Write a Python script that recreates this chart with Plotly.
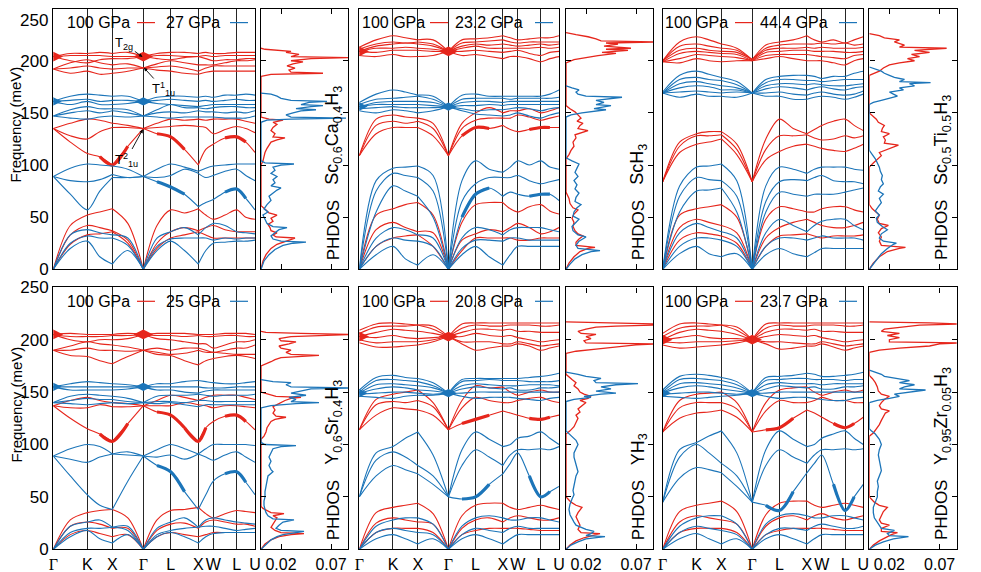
import plotly.graph_objects as go

# ---------------- data ----------------
KPATH = [0, 34, 59, 90, 117.4, 145, 160, 183.4, 201.7]
KLABELS = ['Γ', 'K', 'X', 'Γ', 'L', 'X', 'W', 'L', 'U']
KGRID = [0, 17, 34, 46.5, 59, 74.5, 90, 103.7, 117.4, 131.2, 145, 152.5, 160, 171.7, 183.4, 192.5, 201.7]
# indices of KGRID where the dispersion pieces are split (Gamma and X points)
KBREAKS = [0, 4, 6, 10, 16]
FREQ_TICKS = [0, 50, 100, 150, 200, 250]
FREQ_TICKTEXT = ['0', '50', '100', '150', '200', '250']
DOS_TICKS = [0.02, 0.07]
DOS_TICKTEXT = ['0.02', '0.07']

# Sc0.6Ca0.4H3 : 100 GPa (red) / 27 GPa (blue)
SCCA_RED = [
    [0, 24, 33, 34, 36, 25, 0, 20, 30, 33, 36, 33, 30, 30, 30, 30, 30],
    [0, 33, 42, 40, 37, 28, 0, 25, 36, 40, 37, 40, 42, 38, 36, 36, 36],
    [0, 42, 52, 55, 58, 44, 0, 42, 57, 54, 58, 52, 48, 52, 57, 50, 48],
    [135, 122, 111, 108, 100, 118, 135, 130, 127, 115, 100, 115, 120, 126, 127, 122, 112],
    [135, 128, 125, 132, 136, 136, 135, 136, 137, 138, 137, 136, 130, 134, 137, 135, 131],
    [135, 140, 144, 143, 140, 138, 135, 140, 144, 143, 144, 143, 144, 144, 144, 142, 140],
    [192, 188, 190, 187, 188, 190, 193, 191, 190, 188, 187, 189, 190, 190, 190, 190, 190],
    [192, 193, 195, 193, 192, 193, 193, 194, 195, 193, 190, 193, 195, 195, 195, 195, 195],
    [192, 198, 201, 198, 196, 197, 193, 197, 200, 198, 196, 196, 196, 198, 200, 200, 201],
    [204, 200, 198, 201, 202, 202, 204, 202, 201, 203, 204, 202, 200, 201, 201, 202, 202],
    [204, 205, 205, 205, 204, 204, 204, 205, 205, 204, 204, 205, 204, 205, 205, 205, 205],
    [204, 207, 207, 208, 207, 208, 204, 207, 208, 208, 207, 208, 207, 207, 208, 208, 208],
]
SCCA_BLUE = [
    [0, 20, 27, 12, 5, 18, 0, 18, 27, 18, 5, 18, 25, 26, 27, 27, 28],
    [0, 25, 32, 30, 30, 23, 0, 22, 29, 30, 30, 30, 28, 30, 29, 30, 30],
    [0, 33, 38, 35, 33, 30, 0, 30, 36, 40, 33, 40, 44, 42, 36, 35, 34],
    [89, 72, 57, 75, 88, 88, 89, 84, 79, 72, 60, 64, 67, 74, 77, 68, 57],
    [89, 85, 84, 86, 91, 88, 89, 88, 90, 96, 92, 88, 90, 94, 96, 90, 85],
    [89, 97, 101, 100, 99, 96, 89, 96, 101, 98, 94, 97, 99, 100, 101, 101, 101],
    [147, 145, 144, 146, 147, 146, 147, 146, 145, 146, 146, 146, 146, 145, 145, 145, 147],
    [147, 150, 152, 150, 152, 150, 147, 150, 151, 150, 152, 151, 151, 150, 151, 150, 152],
    [147, 153, 156, 154, 154, 153, 147, 153, 158, 155, 155, 154, 155, 156, 156, 155, 155],
    [161, 158, 161, 158, 158, 159, 161, 159, 158, 157, 156, 157, 158, 158, 158, 158, 158],
    [161, 162, 163, 161, 162, 162, 161, 162, 163, 162, 161, 162, 161, 162, 163, 162, 162],
    [161, 166, 168, 167, 166, 166, 161, 165, 166, 166, 165, 166, 165, 167, 167, 168, 167],
]
# ScH3 : 100 GPa / 23.2 GPa
SCH3_RED = [
    [0, 22, 30, 32, 33, 22, 0, 18, 30, 30, 30, 30, 28, 28, 30, 30, 30],
    [0, 38, 45, 40, 36, 35, 0, 28, 34, 38, 36, 40, 44, 40, 34, 36, 40],
    [0, 52, 58, 62, 64, 52, 0, 45, 62, 64, 64, 58, 55, 60, 62, 56, 53],
    [109, 130, 136, 136, 136, 128, 109, 128, 136, 135, 138, 134, 132, 134, 136, 136, 136],
    [109, 138, 142, 140, 142, 135, 109, 135, 143, 145, 145, 145, 148, 146, 143, 145, 147],
    [109, 144, 148, 146, 145, 140, 109, 140, 150, 155, 150, 152, 152, 154, 150, 152, 155],
    [205, 204, 206, 204, 204, 205, 209, 205, 206, 204, 202, 204, 204, 202, 199, 202, 204],
    [209, 208, 210, 210, 210, 209, 209, 209, 210, 209, 208, 209, 210, 207, 205, 208, 209],
    [209, 212, 212, 213, 212, 211, 209, 212, 214, 212, 212, 212, 212, 212, 213, 212, 213],
    [209, 214, 216, 217, 216, 214, 209, 214, 216, 215, 216, 215, 214, 215, 216, 215, 216],
    [211, 216, 218, 217, 218, 216, 209, 217, 218, 219, 220, 218, 217, 218, 218, 218, 218],
    [213, 220, 224, 222, 220, 220, 209, 220, 221, 222, 224, 222, 220, 221, 222, 222, 224],
]
SCH3_BLUE = [
    [0, 14, 22, 10, 4, 14, 0, 14, 22, 12, 4, 14, 22, 22, 22, 22, 22],
    [0, 22, 30, 28, 27, 22, 0, 20, 28, 28, 27, 30, 30, 28, 28, 28, 28],
    [0, 30, 40, 38, 33, 30, 0, 30, 40, 38, 33, 38, 40, 40, 40, 38, 36],
    [0, 55, 80, 75, 70, 50, 0, 50, 72, 78, 70, 74, 72, 70, 72, 72, 66],
    [0, 75, 92, 90, 88, 75, 0, 65, 82, 88, 88, 88, 90, 85, 82, 84, 86],
    [0, 85, 97, 98, 99, 90, 0, 85, 104, 96, 93, 98, 104, 100, 104, 98, 96],
    [152, 150, 153, 152, 150, 152, 156, 152, 149, 148, 147, 148, 150, 147, 145, 148, 150],
    [154, 155, 156, 155, 155, 155, 156, 154, 152, 153, 153, 154, 155, 154, 152, 154, 155],
    [156, 158, 158, 158, 158, 157, 156, 157, 157, 158, 157, 158, 158, 158, 158, 158, 158],
    [156, 160, 161, 161, 161, 160, 156, 160, 161, 161, 160, 161, 161, 161, 161, 161, 161],
    [158, 163, 164, 165, 166, 163, 156, 163, 164, 164, 164, 163, 164, 164, 164, 164, 165],
    [160, 168, 172, 170, 167, 166, 156, 167, 168, 166, 166, 166, 166, 166, 166, 168, 172],
]
# Sc0.5Ti0.5H3 : 100 GPa / 44.4 GPa
SCTI_RED = [
    [0, 28, 35, 34, 32, 25, 0, 22, 32, 33, 34, 32, 30, 32, 32, 32, 33],
    [0, 40, 48, 45, 42, 35, 0, 30, 40, 45, 48, 45, 42, 40, 40, 42, 45],
    [0, 52, 58, 60, 62, 50, 0, 48, 60, 58, 55, 55, 58, 60, 60, 57, 55],
    [84, 112, 120, 122, 125, 110, 84, 105, 113, 118, 120, 118, 116, 114, 113, 116, 120],
    [84, 118, 128, 128, 129, 115, 84, 115, 128, 128, 129, 126, 124, 125, 128, 126, 128],
    [84, 122, 130, 132, 132, 120, 84, 125, 144, 135, 130, 134, 138, 142, 144, 138, 133],
    [199, 198, 202, 200, 199, 200, 200, 202, 204, 202, 200, 200, 200, 198, 196, 200, 202],
    [199, 202, 206, 205, 204, 203, 200, 205, 206, 206, 206, 205, 204, 203, 202, 205, 206],
    [199, 207, 209, 208, 207, 206, 200, 208, 209, 210, 210, 209, 209, 209, 208, 208, 209],
    [200, 210, 212, 210, 209, 208, 201, 210, 212, 212, 213, 212, 213, 212, 212, 212, 213],
    [200, 214, 216, 214, 212, 210, 201, 212, 215, 216, 216, 216, 217, 216, 217, 215, 216],
    [200, 218, 223, 220, 216, 212, 201, 215, 218, 220, 224, 220, 218, 220, 217, 220, 223],
]
SCTI_BLUE = [
    [0, 15, 22, 15, 12, 15, 0, 14, 20, 15, 12, 16, 20, 20, 20, 20, 20],
    [0, 22, 30, 30, 28, 22, 0, 22, 30, 30, 28, 30, 32, 30, 30, 30, 28],
    [0, 35, 44, 40, 36, 30, 0, 35, 48, 42, 36, 42, 46, 48, 48, 42, 38],
    [0, 55, 75, 76, 78, 55, 0, 55, 74, 72, 70, 72, 72, 72, 74, 76, 78],
    [0, 70, 88, 86, 85, 70, 0, 65, 84, 86, 85, 88, 90, 85, 84, 84, 82],
    [0, 80, 98, 99, 101, 85, 0, 80, 98, 96, 92, 96, 98, 98, 98, 96, 95],
    [169, 165, 168, 166, 166, 165, 169, 166, 166, 163, 163, 165, 166, 165, 163, 165, 168],
    [169, 170, 171, 170, 169, 170, 169, 169, 170, 168, 167, 169, 170, 168, 167, 168, 171],
    [169, 174, 176, 175, 172, 172, 169, 173, 175, 174, 172, 174, 175, 173, 172, 174, 175],
    [169, 178, 180, 178, 176, 174, 169, 176, 178, 178, 177, 178, 177, 176, 176, 177, 178],
    [169, 182, 184, 182, 181, 177, 169, 179, 182, 182, 181, 181, 180, 181, 182, 182, 182],
    [170, 186, 190, 187, 184, 180, 169, 182, 185, 186, 186, 185, 183, 185, 185, 188, 190],
]
# Y0.6Sr0.4H3 : 100 GPa / 25 GPa
YSR_RED = [
    [0, 14, 18, 15, 12, 14, 0, 12, 16, 14, 12, 14, 16, 16, 16, 16, 16],
    [0, 22, 26, 24, 20, 20, 0, 18, 24, 25, 20, 26, 28, 26, 24, 24, 22],
    [0, 28, 35, 37, 38, 30, 0, 28, 37, 38, 40, 34, 30, 34, 37, 36, 35],
    [137, 125, 115, 110, 103, 120, 137, 131, 128, 116, 103, 116, 122, 127, 128, 122, 114],
    [137, 135, 135, 138, 136, 136, 137, 137, 137, 140, 138, 137, 135, 137, 137, 136, 135],
    [137, 142, 145, 142, 140, 139, 137, 142, 147, 145, 142, 145, 147, 147, 147, 145, 143],
    [190, 185, 184, 180, 177, 184, 190, 186, 185, 180, 176, 180, 182, 184, 185, 184, 182],
    [190, 190, 192, 190, 190, 189, 190, 188, 186, 187, 190, 188, 188, 187, 186, 186, 186],
    [190, 194, 198, 196, 195, 193, 190, 192, 190, 192, 192, 190, 188, 190, 192, 192, 195],
    [205, 200, 198, 200, 200, 201, 205, 201, 200, 198, 196, 196, 192, 195, 198, 198, 200],
    [205, 203, 203, 203, 204, 204, 205, 204, 204, 203, 204, 203, 203, 204, 204, 203, 203],
    [205, 206, 205, 205, 205, 206, 205, 206, 206, 206, 205, 205, 205, 206, 206, 206, 205],
]
YSR_BLUE = [
    [0, 12, 18, 10, 6, 14, 0, 12, 16, 12, 6, 12, 15, 16, 16, 16, 16],
    [0, 16, 20, 20, 21, 18, 0, 14, 18, 20, 21, 22, 22, 20, 18, 19, 20],
    [0, 22, 26, 28, 21, 22, 0, 20, 26, 30, 21, 28, 30, 28, 26, 25, 24],
    [89, 70, 52, 42, 38, 65, 89, 80, 74, 55, 38, 52, 65, 72, 74, 64, 52],
    [89, 86, 83, 88, 91, 90, 89, 88, 90, 86, 91, 88, 85, 90, 93, 88, 83],
    [89, 96, 100, 98, 91, 93, 89, 95, 100, 96, 91, 96, 100, 100, 100, 100, 99],
    [140, 139, 138, 139, 140, 139, 140, 139, 140, 138, 136, 138, 138, 138, 138, 138, 138],
    [140, 142, 144, 143, 143, 141, 140, 141, 141, 140, 142, 142, 141, 141, 141, 141, 141],
    [140, 146, 148, 147, 146, 144, 140, 146, 147, 147, 148, 147, 146, 147, 147, 147, 148],
    [155, 152, 152, 152, 152, 153, 155, 152, 152, 150, 149, 151, 152, 152, 152, 152, 152],
    [155, 155, 155, 155, 155, 155, 155, 155, 155, 155, 155, 154, 154, 154, 155, 155, 155],
    [155, 158, 160, 159, 158, 157, 155, 158, 158, 160, 161, 160, 159, 158, 158, 159, 160],
]
# YH3 : 100 GPa / 20.8 GPa
YH3_RED = [
    [0, 16, 20, 20, 20, 16, 0, 14, 18, 20, 20, 20, 20, 19, 18, 18, 18],
    [0, 25, 30, 28, 26, 24, 0, 20, 28, 30, 26, 30, 32, 30, 28, 28, 30],
    [0, 35, 40, 42, 44, 34, 0, 32, 42, 44, 44, 40, 38, 40, 42, 40, 38],
    [114, 128, 135, 134, 133, 128, 114, 120, 124, 128, 132, 130, 128, 125, 124, 126, 128],
    [114, 138, 141, 140, 142, 136, 114, 135, 145, 142, 140, 140, 142, 144, 145, 142, 140],
    [114, 143, 148, 150, 152, 140, 114, 142, 156, 154, 155, 150, 147, 150, 152, 150, 150],
    [197, 193, 193, 194, 195, 198, 203, 196, 190, 192, 194, 194, 196, 194, 190, 192, 194],
    [200, 197, 198, 198, 198, 200, 203, 198, 198, 198, 196, 196, 198, 196, 194, 195, 196],
    [203, 202, 204, 202, 201, 202, 203, 203, 206, 204, 203, 204, 202, 200, 198, 199, 200],
    [203, 207, 210, 209, 208, 206, 203, 207, 210, 210, 209, 210, 208, 208, 207, 207, 207],
    [206, 212, 213, 213, 214, 210, 203, 211, 214, 213, 213, 214, 214, 214, 213, 213, 214],
    [209, 215, 216, 215, 214, 213, 203, 215, 216, 216, 216, 216, 216, 216, 216, 216, 216],
]
YH3_BLUE = [
    [0, 10, 14, 10, 5, 10, 0, 10, 14, 10, 5, 10, 14, 14, 14, 14, 14],
    [0, 16, 20, 18, 16, 14, 0, 14, 20, 18, 16, 20, 22, 20, 20, 20, 20],
    [0, 22, 28, 30, 30, 24, 0, 22, 30, 32, 30, 28, 28, 30, 30, 28, 26],
    [50, 70, 80, 76, 72, 62, 50, 48, 50, 62, 72, 82, 92, 70, 50, 55, 60],
    [50, 85, 93, 88, 80, 70, 50, 80, 95, 88, 80, 90, 95, 95, 96, 95, 98],
    [50, 92, 98, 106, 112, 90, 50, 95, 112, 105, 98, 100, 106, 108, 112, 106, 100],
    [146, 145, 144, 146, 147, 147, 149, 146, 144, 145, 145, 145, 144, 143, 142, 144, 145],
    [148, 149, 150, 150, 149, 148, 149, 149, 150, 150, 150, 150, 150, 150, 150, 150, 150],
    [149, 153, 155, 154, 152, 151, 149, 153, 155, 154, 153, 154, 152, 152, 154, 154, 155],
    [149, 157, 158, 157, 156, 154, 149, 156, 158, 157, 156, 156, 156, 157, 157, 157, 156],
    [150, 161, 162, 161, 160, 156, 149, 160, 161, 162, 161, 161, 161, 160, 160, 160, 161],
    [152, 164, 166, 164, 163, 159, 149, 162, 163, 163, 163, 163, 163, 164, 165, 166, 168],
]
# Y0.95Zr0.05H3 : 100 GPa / 23.7 GPa
YZR_RED = [
    [0, 16, 20, 20, 20, 16, 0, 14, 18, 20, 20, 20, 20, 19, 18, 18, 18],
    [0, 26, 32, 30, 28, 24, 0, 22, 30, 32, 28, 32, 34, 30, 28, 30, 32],
    [0, 36, 42, 44, 46, 36, 0, 33, 44, 46, 46, 42, 40, 42, 44, 42, 40],
    [112, 125, 130, 131, 133, 126, 112, 114, 116, 125, 133, 130, 126, 120, 116, 120, 126],
    [112, 135, 140, 140, 140, 134, 112, 132, 142, 140, 140, 142, 145, 142, 142, 140, 140],
    [112, 142, 148, 149, 150, 140, 112, 140, 152, 154, 155, 150, 147, 150, 152, 150, 152],
    [195, 192, 193, 194, 195, 197, 200, 196, 191, 192, 194, 194, 196, 193, 190, 192, 194],
    [198, 197, 198, 198, 198, 199, 200, 198, 198, 197, 196, 196, 198, 196, 194, 195, 196],
    [200, 202, 204, 202, 201, 201, 200, 203, 205, 204, 203, 204, 202, 200, 198, 199, 200],
    [200, 207, 210, 209, 208, 205, 200, 207, 210, 210, 209, 210, 208, 208, 207, 207, 207],
    [203, 211, 213, 213, 214, 209, 200, 211, 214, 213, 213, 214, 214, 214, 213, 213, 214],
    [206, 215, 216, 215, 214, 212, 200, 215, 216, 216, 216, 216, 216, 216, 216, 216, 216],
]
YZR_BLUE = [
    [0, 10, 15, 10, 5, 10, 0, 10, 14, 10, 5, 10, 14, 14, 14, 14, 14],
    [0, 16, 22, 20, 18, 14, 0, 14, 20, 20, 18, 22, 24, 22, 20, 20, 22],
    [0, 22, 30, 32, 32, 24, 0, 24, 32, 34, 32, 30, 30, 32, 32, 30, 28],
    [45, 68, 78, 76, 73, 60, 45, 42, 37, 55, 73, 82, 90, 62, 37, 50, 62],
    [45, 88, 100, 92, 82, 70, 45, 80, 95, 88, 82, 90, 95, 95, 96, 95, 96],
    [45, 95, 102, 108, 113, 92, 45, 95, 113, 105, 98, 100, 106, 110, 113, 106, 100],
    [146, 145, 144, 145, 146, 147, 149, 146, 144, 145, 145, 144, 143, 142, 142, 144, 145],
    [148, 149, 150, 150, 149, 148, 149, 149, 150, 150, 150, 150, 150, 150, 150, 150, 150],
    [149, 154, 156, 155, 153, 151, 149, 153, 156, 155, 154, 155, 153, 153, 155, 155, 156],
    [149, 158, 159, 158, 157, 154, 149, 157, 159, 158, 158, 158, 157, 158, 158, 158, 158],
    [150, 162, 163, 162, 161, 157, 149, 161, 162, 163, 163, 162, 162, 162, 161, 162, 162],
    [152, 165, 167, 166, 164, 160, 149, 164, 165, 166, 168, 167, 165, 165, 166, 167, 169],
]

# frequencies of the fat-band knots at the Gamma points (red, blue)
SCCA_GAMMA_BLOB = ([204], [161])
SCH3_GAMMA_BLOB = ([209], [156])
SCTI_GAMMA_BLOB = ([], [])
YSR_GAMMA_BLOB = ([205], [155])
YH3_GAMMA_BLOB = ([203], [149])
YZR_GAMMA_BLOB = ([200], [149])

# fat-band stretches: (series, branch index, first k index, last k index)
SCCA_FAT = [('red', 3, 7, 9), ('red', 3, 13, 15), ('red', 3, 3, 5), ('blue', 3, 7, 9), ('blue', 3, 13, 15)]
SCH3_FAT = [('red', 3, 7, 9), ('red', 3, 13, 15), ('blue', 3, 7, 9), ('blue', 3, 13, 15)]
SCTI_FAT = []
YSR_FAT = [('red', 3, 7, 9), ('red', 3, 13, 15), ('red', 3, 3, 5), ('red', 3, 9, 11), ('blue', 3, 7, 9), ('blue', 3, 13, 15)]
YH3_FAT = [('red', 3, 7, 9), ('red', 3, 13, 15), ('blue', 3, 7, 9), ('blue', 3, 13, 15)]
YZR_FAT = [('red', 3, 7, 9), ('red', 3, 13, 15), ('blue', 3, 7, 9), ('blue', 3, 13, 15)]

# PHDOS (frequency meV, dos)
SCCA_DOS_RED = [(0,0),(8,0.002),(14,0.005),(20,0.01),(24,0.016),(27,0.024),(29,0.03),(30,0.034),(31,0.015),(33,0.012),(35,0.016),(37,0.01),(40,0.009),(43,0.007),(46,0.012),(49,0.01),(52,0.016),(54,0.008),(57,0.005),(59,0.002),(61,0),
    (100,0),(104,0.002),(108,0.003),(112,0.004),(116,0.006),(119,0.008),(122,0.01),(124,0.016),(126,0.024),(127,0.012),(130,0.014),(133,0.01),(136,0.012),(139,0.016),(141,0.012),(143,0.022),(144,0.008),(146,0),
    (185,0),(187,0.01),(188,0.062),(189,0.03),(191,0.028),(193,0.034),(195,0.026),(197,0.032),(199,0.042),(200,0.03),(202,0.05),(203,0.09),(204,0.03),(206,0.038),(208,0.025),(209,0.03),(210,0.012),(211,0.004),(212,0)]
SCCA_DOS_BLUE = [(0,0),(8,0.003),(14,0.008),(19,0.014),(23,0.022),(25,0.032),(26,0.045),(27,0.02),(29,0.012),(32,0.01),(35,0.014),(38,0.018),(40,0.026),(41,0.012),(44,0.006),(48,0.004),(52,0.002),(55,0.007),(58,0.003),(62,0.006),(66,0.01),(70,0.008),(73,0.012),(76,0.016),(78,0.02),(80,0.01),(83,0.014),(86,0.012),(89,0.016),(92,0.01),(95,0.014),(98,0.012),(100,0.02),(101,0.033),(102,0.004),(104,0),
    (141,0),(143,0.006),(144,0.03),(145,0.085),(146,0.03),(148,0.025),(150,0.032),(152,0.04),(153,0.055),(154,0.035),(156,0.05),(157,0.062),(158,0.04),(160,0.048),(161,0.066),(162,0.03),(164,0.02),(166,0.016),(168,0.01),(169,0)]
SCH3_DOS_RED = [(0,0),(6,0.003),(12,0.008),(17,0.014),(20,0.022),(21,0.029),(23,0.01),(26,0.01),(29,0.013),(32,0.017),(34,0.012),(37,0.009),(41,0.007),(45,0.008),(49,0.006),(53,0.008),(57,0.012),(59,0.007),(63,0.004),(68,0.003),(72,0.001),(74,0),
    (106,0),(110,0.003),(114,0.005),(118,0.008),(122,0.007),(126,0.01),(129,0.009),(132,0.018),(133,0.022),(135,0.012),(138,0.014),(140,0.017),(142,0.011),(145,0.015),(148,0.012),(151,0.009),(154,0.004),(157,0),
    (198,0),(201,0.008),(203,0.02),(205,0.032),(207,0.05),(208,0.036),(210,0.062),(211,0.04),(212,0.065),(214,0.038),(216,0.052),(217,0.04),(218,0.09),(219,0.035),(221,0.03),(223,0.022),(225,0.01),(227,0)]
SCH3_DOS_BLUE = [(0,0),(5,0.004),(10,0.009),(14,0.016),(17,0.025),(18,0.034),(20,0.012),(23,0.01),(27,0.013),(31,0.02),(33,0.012),(37,0.007),(41,0.006),(45,0.01),(48,0.013),(51,0.007),(55,0.008),(59,0.011),(62,0.015),(65,0.009),(69,0.01),(73,0.013),(77,0.009),(81,0.011),(85,0.008),(89,0.012),(93,0.009),(97,0.011),(101,0.013),(104,0.006),(107,0),
    (146,0),(148,0.005),(150,0.016),(151,0.024),(153,0.04),(154,0.028),(155,0.035),(157,0.045),(158,0.03),(160,0.038),(162,0.03),(164,0.048),(165,0.056),(166,0.02),(168,0.012),(170,0.01),(172,0.013),(174,0.006),(176,0)]
SCTI_DOS_RED = [(0,0),(6,0.004),(12,0.01),(17,0.018),(20,0.03),(21,0.036),(23,0.012),(27,0.01),(31,0.012),(35,0.009),(39,0.012),(42,0.019),(44,0.01),(48,0.008),(52,0.01),(55,0.006),(58,0.003),(62,0),
    (98,0),(102,0.004),(106,0.008),(109,0.012),(112,0.01),(115,0.018),(117,0.022),(119,0.029),(121,0.015),(124,0.016),(127,0.014),(130,0.02),(132,0.012),(135,0.013),(138,0.015),(141,0.009),(144,0.007),(147,0.004),(150,0),
    (186,0),(188,0.006),(190,0.01),(193,0.014),(196,0.02),(198,0.03),(200,0.045),(202,0.038),(204,0.05),(206,0.042),(208,0.06),(210,0.045),(212,0.077),(213,0.03),(215,0.035),(218,0.025),(220,0.03),(222,0.015),(224,0.01),(226,0)]
SCTI_DOS_BLUE = [(0,0),(5,0.004),(10,0.008),(15,0.012),(20,0.018),(24,0.024),(25,0.027),(27,0.014),(30,0.01),(34,0.012),(38,0.018),(41,0.013),(45,0.008),(49,0.007),(52,0.01),(56,0.006),(60,0.009),(64,0.012),(68,0.01),(72,0.014),(75,0.009),(79,0.011),(82,0.014),(86,0.012),(90,0.013),(94,0.011),(98,0.01),(102,0.008),(106,0.006),(110,0.003),(114,0),
    (158,0),(160,0.004),(162,0.012),(164,0.02),(166,0.028),(168,0.024),(170,0.02),(172,0.034),(174,0.03),(176,0.045),(178,0.04),(179,0.061),(180,0.03),(182,0.035),(184,0.025),(186,0.02),(188,0.015),(190,0.012),(192,0.006),(194,0)]
YSR_DOS_RED = [(0,0),(5,0.004),(9,0.01),(12,0.018),(14,0.03),(15,0.043),(16,0.02),(18,0.014),(21,0.01),(24,0.012),(27,0.014),(30,0.016),(32,0.012),(34,0.023),(35,0.01),(37,0.006),(39,0.002),(41,0),
    (105,0),(108,0.003),(112,0.005),(116,0.006),(119,0.008),(122,0.01),(124,0.014),(126,0.025),(127,0.015),(130,0.012),(133,0.014),(136,0.012),(138,0.016),(140,0.02),(142,0.024),(144,0.03),(145,0.04),(146,0.015),(148,0.006),(150,0),
    (175,0),(177,0.006),(179,0.01),(181,0.014),(183,0.02),(185,0.058),(186,0.03),(188,0.025),(190,0.03),(192,0.02),(194,0.018),(196,0.028),(198,0.035),(199,0.02),(201,0.018),(203,0.03),(205,0.09),(206,0.04),(207,0.005),(208,0)]
YSR_DOS_BLUE = [(0,0),(5,0.005),(9,0.01),(12,0.016),(14,0.022),(16,0.035),(17,0.043),(18,0.02),(20,0.015),(23,0.018),(26,0.022),(28,0.033),(29,0.012),(32,0.007),(35,0.005),(38,0.004),(42,0.003),(46,0.003),(50,0.004),(55,0.004),(60,0.005),(65,0.006),(70,0.007),(74,0.012),(76,0.01),(80,0.008),(84,0.01),(88,0.008),(92,0.01),(96,0.012),(98,0.02),(99,0.035),(100,0.004),(102,0),
    (135,0),(137,0.01),(139,0.035),(140,0.058),(141,0.03),(143,0.035),(145,0.028),(147,0.045),(149,0.03),(151,0.04),(153,0.05),(154,0.09),(155,0.03),(157,0.025),(159,0.03),(160,0.012),(162,0)]
YH3_DOS_RED = [(0,0),(4,0.004),(8,0.01),(11,0.018),(13,0.026),(15,0.034),(16,0.015),(19,0.012),(23,0.014),(27,0.012),(31,0.01),(35,0.012),(38,0.014),(40,0.016),(42,0.01),(45,0.005),(48,0.002),(50,0),
    (110,0),(113,0.004),(117,0.008),(121,0.01),(125,0.012),(128,0.01),(131,0.014),(134,0.012),(137,0.016),(140,0.02),(142,0.014),(144,0.022),(146,0.025),(148,0.018),(150,0.014),(153,0.012),(156,0.008),(159,0.01),(162,0.006),(165,0.003),(167,0),
    (187,0),(189,0.01),(191,0.03),(193,0.05),(195,0.07),(196,0.09),(197,0.02),(199,0.018),(201,0.025),(203,0.02),(205,0.03),(206,0.015),(208,0.012),(210,0.02),(212,0.03),(213,0.05),(214,0.09),(215,0.09),(216,0.02),(217,0)]
YH3_DOS_BLUE = [(0,0),(4,0.005),(7,0.012),(10,0.02),(12,0.039),(13,0.02),(15,0.025),(17,0.028),(19,0.02),(21,0.015),(23,0.01),(26,0.008),(29,0.006),(33,0.004),(38,0.003),(43,0.004),(48,0.006),(52,0.008),(56,0.007),(60,0.008),(65,0.009),(70,0.01),(74,0.012),(78,0.011),(83,0.01),(88,0.008),(92,0.008),(96,0.01),(100,0.012),(104,0.01),(108,0.006),(111,0.003),(113,0),
    (141,0),(143,0.008),(145,0.025),(146,0.018),(148,0.035),(149,0.05),(151,0.03),(153,0.045),(155,0.035),(157,0.05),(158,0.072),(159,0.03),(161,0.028),(163,0.035),(165,0.02),(167,0.012),(169,0)]
YZR_DOS_RED = [(0,0),(4,0.004),(8,0.01),(11,0.016),(14,0.022),(16,0.028),(17,0.012),(20,0.012),(23,0.02),(25,0.012),(28,0.01),(32,0.012),(36,0.014),(40,0.018),(42,0.01),(45,0.005),(48,0.002),(50,0),
    (108,0),(111,0.004),(115,0.007),(119,0.01),(123,0.012),(127,0.014),(130,0.016),(132,0.02),(134,0.012),(137,0.01),(140,0.012),(143,0.015),(146,0.02),(148,0.012),(151,0.009),(155,0.008),(159,0.006),(163,0.003),(166,0),
    (188,0),(190,0.01),(192,0.03),(194,0.06),(196,0.07),(197,0.09),(198,0.02),(200,0.02),(202,0.03),(204,0.018),(206,0.03),(208,0.012),(210,0.015),(212,0.03),(214,0.05),(215,0.09),(216,0.06),(217,0)]
YZR_DOS_BLUE = [(0,0),(4,0.006),(7,0.014),(10,0.024),(12,0.039),(13,0.02),(15,0.018),(18,0.025),(20,0.012),(23,0.01),(26,0.008),(30,0.005),(35,0.004),(40,0.004),(45,0.006),(50,0.008),(55,0.008),(60,0.009),(65,0.008),(70,0.01),(75,0.012),(80,0.011),(85,0.01),(90,0.009),(95,0.01),(100,0.012),(105,0.01),(110,0.006),(113,0.002),(115,0),
    (140,0),(142,0.008),(144,0.02),(146,0.03),(148,0.025),(150,0.04),(152,0.056),(153,0.03),(155,0.035),(157,0.045),(159,0.03),(161,0.04),(163,0.025),(165,0.015),(167,0.012),(169,0.006),(171,0)]

LEGEND_HIGH = '100 GPa'
LEGEND_LOW = ['27 GPa', '23.2 GPa', '44.4 GPa', '25 GPa', '20.8 GPa', '23.7 GPa']
COMPOUNDS = ['Sc<sub>0.6</sub>Ca<sub>0.4</sub>H<sub>3</sub>', 'ScH<sub>3</sub>', 'Sc<sub>0.5</sub>Ti<sub>0.5</sub>H<sub>3</sub>',
             'Y<sub>0.6</sub>Sr<sub>0.4</sub>H<sub>3</sub>', 'YH<sub>3</sub>', 'Y<sub>0.95</sub>Zr<sub>0.05</sub>H<sub>3</sub>']

PANELS = [
    (SCCA_RED, SCCA_BLUE, SCCA_DOS_RED, SCCA_DOS_BLUE, SCCA_GAMMA_BLOB, SCCA_FAT),
    (SCH3_RED, SCH3_BLUE, SCH3_DOS_RED, SCH3_DOS_BLUE, SCH3_GAMMA_BLOB, SCH3_FAT),
    (SCTI_RED, SCTI_BLUE, SCTI_DOS_RED, SCTI_DOS_BLUE, SCTI_GAMMA_BLOB, SCTI_FAT),
    (YSR_RED, YSR_BLUE, YSR_DOS_RED, YSR_DOS_BLUE, YSR_GAMMA_BLOB, YSR_FAT),
    (YH3_RED, YH3_BLUE, YH3_DOS_RED, YH3_DOS_BLUE, YH3_GAMMA_BLOB, YH3_FAT),
    (YZR_RED, YZR_BLUE, YZR_DOS_RED, YZR_DOS_BLUE, YZR_GAMMA_BLOB, YZR_FAT),
]

# ---------------- style / layout ----------------
W, H = 981, 572
OFF = 8                      # page body margin of the browser
FIG_W, FIG_H = W - OFF, H - OFF
RED = '#e6261c'
BLUE = '#1c75b9'
FONT = 'Liberation Sans, Arial, Helvetica, sans-serif'
BAND_X = [(53.3, 255.0), (359.3, 559.0), (662.7, 863.3)]
DOS_X = [(261.0, 348.0), (566.0, 653.0), (869.3, 956.7)]
ROW_Y = [(8.6, 269.3), (287.3, 549.3)]
# legend layout (px from band-panel left): text1 left, red sample, text2 right, blue sample
LEG_POS = [(11.7, 83.7, 168.7, 176.7), (0.7, 70.7, 165.7, 175.7), (0.3, 72.3, 167.3, 176.3)]


def px(x):
    return min(1.0, max(0.0, (x - OFF) / FIG_W))


def py(y):
    return min(1.0, max(0.0, 1 - (y - OFF) / FIG_H))


def band_xy(branches):
    xs, ys = [], []
    for br in branches:
        for a, b in zip(KBREAKS[:-1], KBREAKS[1:]):
            xs += KGRID[a:b + 1] + [None]
            ys += br[a:b + 1] + [None]
    return xs, ys


fig = go.Figure()
layout = dict(template='none', width=FIG_W, height=FIG_H, margin=dict(l=0, r=0, t=0, b=0, pad=0),
              paper_bgcolor='white', plot_bgcolor='white', showlegend=False,
              font=dict(family=FONT, size=17, color='black'))
annotations = []
shapes = []
gamma_tick = '<span style="font-family:Liberation Serif, Times New Roman, serif">Γ</span>'
kticktext = [gamma_tick if k == 'Γ' else k for k in KLABELS]
axis_common = dict(showline=True, linecolor='black', linewidth=1.4, zeroline=False,
                   automargin=False, tickangle=0)

for i, (red, blue, dred, dblue, blob, fat) in enumerate(PANELS):
    row, col = divmod(i, 3)
    nb, nd = 2 * i + 1, 2 * i + 2
    bx0, bx1 = BAND_X[col]
    dx0, dx1 = DOS_X[col]
    y0, y1 = ROW_Y[row]
    ydom = [py(y1), py(y0)]
    sb = '' if nb == 1 else str(nb)
    sd = str(nd)
    # the top label of the upper row would sit outside the page area -> drawn as annotation
    ytext = FREQ_TICKTEXT[:-1] + [''] if row == 0 else FREQ_TICKTEXT

    layout['xaxis' + sb] = dict(domain=[px(bx0), px(bx1)], anchor='y' + sb, range=[0, KPATH[-1]],
                                tickvals=KPATH, ticktext=kticktext, showticklabels=(row == 1),
                                showgrid=True, gridcolor='#262626', gridwidth=1.3, ticks='',
                                mirror=True, tickfont=dict(size=16), **axis_common)
    layout['yaxis' + sb] = dict(domain=ydom, anchor='x' + sb, range=[0, 250], tickvals=FREQ_TICKS,
                                ticktext=ytext, showticklabels=(col == 0), showgrid=False, ticks='',
                                mirror=True, tickfont=dict(size=17), **axis_common)
    layout['xaxis' + sd] = dict(domain=[px(dx0), px(dx1)], anchor='y' + sd, range=[0, 0.087],
                                tickvals=DOS_TICKS, ticktext=DOS_TICKTEXT, showticklabels=(row == 1),
                                ticks='inside', ticklen=5, tickwidth=1, tickcolor='black',
                                mirror='ticks', showgrid=False, tickfont=dict(size=16), **axis_common)
    layout['yaxis' + sd] = dict(domain=ydom, anchor='x' + sd, range=[0, 250], tickvals=FREQ_TICKS,
                                showticklabels=False, ticks='inside', ticklen=5, tickwidth=1,
                                tickcolor='black', mirror='ticks', showgrid=False, **axis_common)

    series = {'red': (red, RED), 'blue': (blue, BLUE)}
    for key in ('red', 'blue'):
        branches, color = series[key]
        xs, ys = band_xy(branches)
        fig.add_trace(go.Scatter(x=xs, y=ys, mode='lines', xaxis='x' + sb, yaxis='y' + sb,
                                 line=dict(color=color, width=1.1, shape='spline', smoothing=0.9),
                                 hoverinfo='skip'))
        fx, fy = [], []
        for k, b, a, e in fat:
            if k == key:
                fx += KGRID[a:e + 1] + [None]
                fy += branches[b][a:e + 1] + [None]
        if fx:
            fig.add_trace(go.Scatter(x=fx, y=fy, mode='lines', xaxis='x' + sb, yaxis='y' + sb,
                                     line=dict(color=color, width=3.2, shape='spline', smoothing=0.9),
                                     hoverinfo='skip'))
    for freqs, color, size in ((blob[0], RED, 14), (blob[1], BLUE, 12)):
        if freqs:
            gx = [KPATH[0], KPATH[3]] * len(freqs)
            gy = [f for f in freqs for _ in range(2)]
            fig.add_trace(go.Scatter(x=gx, y=gy, mode='markers', xaxis='x' + sb, yaxis='y' + sb,
                                     marker=dict(symbol='diamond-wide', size=size, color=color,
                                                 line=dict(width=0)), hoverinfo='skip'))
    for dos, color in ((dred, RED), (dblue, BLUE)):
        fig.add_trace(go.Scatter(x=[d for f, d in dos], y=[f for f, d in dos], mode='lines',
                                 xaxis='x' + sd, yaxis='y' + sd,
                                 line=dict(color=color, width=1.3), hoverinfo='skip'))

    # legend (text, sample line) inside band panel
    t1, rs, t2r, bs = LEG_POS[col]
    ly = y0 + 14
    annotations.append(dict(x=px(bx0 + t1), y=py(ly), xref='paper', yref='paper', text=LEGEND_HIGH,
                            showarrow=False, xanchor='left', yanchor='middle', font=dict(size=16)))
    annotations.append(dict(x=px(bx0 + t2r), y=py(ly), xref='paper', yref='paper', text=LEGEND_LOW[i],
                            showarrow=False, xanchor='right', yanchor='middle', font=dict(size=16)))
    shapes.append(dict(type='line', xref='paper', yref='paper', x0=px(bx0 + rs), x1=px(bx0 + rs + 18),
                       y0=py(ly), y1=py(ly), line=dict(color=RED, width=1.2)))
    shapes.append(dict(type='line', xref='paper', yref='paper', x0=px(bx0 + bs), x1=px(bx0 + bs + 18),
                       y0=py(ly), y1=py(ly), line=dict(color=BLUE, width=1.2)))

    # vertical labels in the PHDOS panel
    annotations.append(dict(x=px(dx1 - 15), y=py(y1 - 7), xref='paper', yref='paper', text='PHDOS',
                            textangle=-90, showarrow=False, xanchor='center', yanchor='bottom',
                            font=dict(size=17)))
    annotations.append(dict(x=px(dx1 - 14), y=py(y1 - 82), xref='paper', yref='paper', text=COMPOUNDS[i],
                            textangle=-90, showarrow=False, xanchor='center', yanchor='bottom',
                            font=dict(size=18)))

# top frequency label of the upper row, kept inside the page area
annotations.append(dict(x=px(50), y=py(ROW_Y[0][0]), xref='paper', yref='paper',
                        text=FREQ_TICKTEXT[-1], showarrow=False, xanchor='right', yanchor='top',
                        font=dict(size=17)))

# y-axis titles
for (y0, y1), yc in zip(ROW_Y, (125, 405)):
    annotations.append(dict(x=px(15.5), y=py(yc), xref='paper', yref='paper', text='Frequency (meV)',
                            textangle=-90, showarrow=False, xanchor='center', yanchor='middle',
                            font=dict(size=15)))

# mode labels in the first panel
for text, f, ax, ay in (('T<sub>2g</sub>', 203, -19, -14),
                        ('T<sup>1</sup><sub>1u</sub>', 194, 20, 22),
                        ('T<sup>2</sup><sub>1u</sub>', 135, -17, 31)):
    annotations.append(dict(x=KPATH[3], y=f, xref='x', yref='y', text=text, showarrow=True,
                            ax=ax, ay=ay, arrowhead=2, arrowsize=0.8, arrowwidth=0.9,
                            arrowcolor='black', font=dict(size=13), standoff=1))

layout['annotations'] = annotations
layout['shapes'] = shapes
fig.update_layout(**layout)
fig.write_html('out.html')
